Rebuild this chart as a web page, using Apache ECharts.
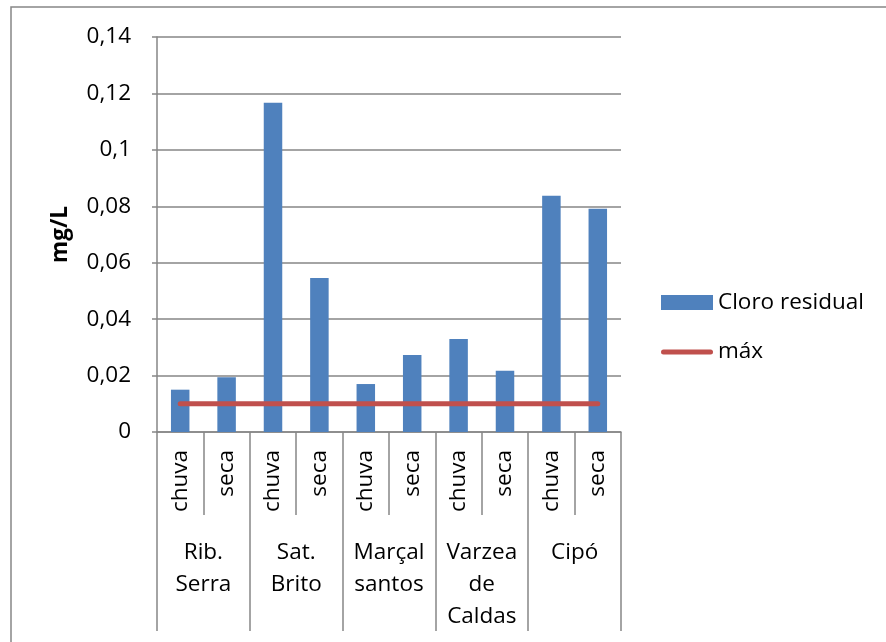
<!DOCTYPE html>
<html style="height: 100%;">
<head>
<meta charset="utf-8">
<title>Cloro residual</title>
<script type="text/javascript" src="https://cdn.jsdelivr.net/npm/echarts@6/dist/echarts.min.js"></script>
</head>
<body style="height: 100%; margin: 0; background: #fff;">
<div id="container" style="width: 886px; height: 642px;"></div>
<script type="text/javascript">
// dados
var seasons = ['chuva', 'seca', 'chuva', 'seca', 'chuva', 'seca', 'chuva', 'seca', 'chuva', 'seca'];
var groups = ['Rib.\nSerra', 'Sat.\nBrito', 'Marçal\nsantos', 'Varzea\nde\nCaldas', 'Cipó'];
var cloro = [0.015, 0.0194, 0.1167, 0.0546, 0.017, 0.0273, 0.033, 0.0217, 0.0837, 0.0791];
var maxLimit = [0.01, 0.01, 0.01, 0.01, 0.01, 0.01, 0.01, 0.01, 0.01, 0.01];
var yTicks = { min: 0, max: 0.14, interval: 0.02 };

var FONT = 'Open Sans';
var FS = 22.5;
var GREY = '#868686';
// ícone da legenda para a linha (traço grosso com pontas redondas)
var LINE_ICON = 'path://M2.5,0H49.5A2.5,2.5,0,0,1,49.5,5H2.5A2.5,2.5,0,0,1,2.5,0Z';

var myChart = echarts.init(document.getElementById('container'));

var option = {
    animation: false,
    textStyle: { fontFamily: FONT },
    grid: { left: 157, right: 265, top: 37, bottom: 210, containLabel: false },
    graphic: [{
        type: 'rect',
        shape: { x: 11, y: 7, width: 1000, height: 1000 },
        style: { fill: 'none', stroke: GREY, lineWidth: 1.5 },
        silent: true
    }],
    legend: {
        orient: 'vertical',
        left: 661,
        top: 291,
        padding: 0,
        itemWidth: 52,
        itemHeight: 15,
        itemGap: 26.5,
        symbolKeepAspect: true,
        textStyle: { fontFamily: FONT, fontSize: FS, color: '#000' },
        data: [
            { name: 'Cloro residual', icon: 'rect' },
            { name: 'máx', icon: LINE_ICON }
        ]
    },
    xAxis: [{
        type: 'category',
        data: seasons,
        position: 'bottom',
        axisLine: { lineStyle: { color: GREY, width: 1.5 } },
        axisTick: { show: true, length: 83, lineStyle: { color: GREY, width: 1.5 } },
        axisLabel: {
            rotate: 90, margin: 18, interval: 0,
            fontFamily: FONT, fontSize: FS, color: '#000'
        },
        splitLine: { show: false }
    }, {
        type: 'category',
        data: groups,
        position: 'bottom',
        axisLine: { show: false },
        axisTick: { show: true, length: 199, lineStyle: { color: GREY, width: 1.5 } },
        axisLabel: {
            margin: 105, interval: 0, lineHeight: 32,
            fontFamily: FONT, fontSize: FS, color: '#000'
        },
        splitLine: { show: false }
    }],
    yAxis: {
        type: 'value',
        min: yTicks.min,
        max: yTicks.max,
        interval: yTicks.interval,
        name: 'mg/L',
        nameLocation: 'middle',
        nameRotate: 90,
        nameGap: 85,
        nameTextStyle: { fontFamily: FONT, fontSize: FS, fontWeight: 'bold', color: '#000' },
        axisLine: { show: true, lineStyle: { color: GREY, width: 1.5 } },
        axisTick: { show: true, length: 5, lineStyle: { color: GREY, width: 1.5 } },
        axisLabel: {
            margin: 26,
            fontFamily: FONT, fontSize: FS, color: '#000',
            formatter: function (v) {
                return (+v.toFixed(2)).toString().replace('.', ',');
            }
        },
        splitLine: { show: true, lineStyle: { color: GREY, width: 1.5 } }
    },
    series: [{
        name: 'Cloro residual',
        type: 'bar',
        xAxisIndex: 0,
        barWidth: 18.5,
        itemStyle: { color: '#4F81BD' },
        data: cloro
    }, {
        name: 'máx',
        type: 'line',
        xAxisIndex: 0,
        symbol: 'none',
        lineStyle: { color: '#C0504D', width: 5, cap: 'round' },
        itemStyle: { color: '#C0504D' },
        z: 5,
        data: maxLimit
    }]
};

myChart.setOption(option);
window.onresize = function () {
    myChart.resize();
};
</script>
</body>
</html>
